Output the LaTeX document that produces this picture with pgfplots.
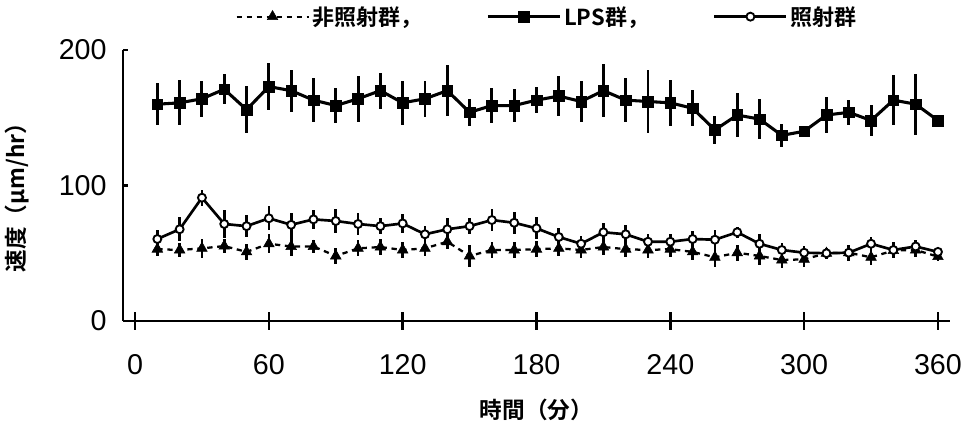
\documentclass[border=0pt]{standalone}
\usepackage{fontspec}
\usepackage{pgfplots}
\pgfplotsset{compat=1.18}
\usepackage{pgfplotstable}
\setmainfont{Noto Sans CJK JP}[BoldFont={Noto Sans CJK JP Bold}]
\newfontfamily\ticksf{Liberation Sans}

\pgfplotstableread{
x y e
10 160 15.6
20 161 16.6
30 164 13.3
40 171 11
50 156 17.2
60 173 17.2
70 170 15.5
80 163 16
90 159 12.8
100 164 17
110 170 13.2
120 161 16.2
130 164 13.3
140 170 19
150 154 9.8
160 159 12.8
170 159 12
180 163 9.5
190 166 14.5
200 162 15
210 170 19.3
220 163 16.4
230 162 22.9
240 161 16.8
250 157 13.2
260 141 10.5
270 152 16
280 149 15
290 137 8.6
300 140 4
310 152 13.3
320 154 9.2
330 148 11.3
340 163 18.7
350 160 22.4
360 148 3
}\lps

\pgfplotstableread{
x y e
10 60.5 7
20 67.7 9
30 91 6
40 71.6 10
50 70 8
60 75.8 9
70 71 9
80 75 7
90 73.8 9
100 71.6 8
110 70 6
120 72 7
130 64 6
140 67.7 8
150 70 6
160 74.5 8
170 72.5 8
180 68.4 8
190 62 7
200 57 6
210 65.5 7
220 64 7
230 58.5 6
240 58.5 6
250 60.5 6
260 60 7
270 65.5 4
280 57 7
290 52.4 5
300 50.4 5
310 50 4
320 50.4 6
330 57 5
340 52.4 6
350 55 5
360 51 3
}\irr

\pgfplotstableread{
x y e
10 53 5
20 52.4 5
30 53.6 7
40 55.3 5
50 51 6
60 57 7
70 55 7
80 55 5
90 48 6
100 53.6 6
110 54.6 6
120 52.4 6
130 53.6 6
140 58.5 5
150 48 8
160 52.4 6
170 52.4 6
180 53 6
190 53.6 6
200 52.4 6
210 54.6 6
220 53 6
230 52.4 6
240 53 6
250 51 6
260 47 7
270 50.4 6
280 48 7
290 45 6
300 45.5 6
310 50 3
320 50.4 5
330 47 6
340 52 4
350 52.4 5
360 47.5 3
}\nonirr

\begin{document}
\begin{tikzpicture}
\begin{axis}[
  scale only axis,
  width=620.25pt, height=203.25pt,
  xmin=-5.4, xmax=365.4,
  ymin=0, ymax=200,
  axis x line*=bottom, axis y line*=left,
  axis line style={line width=2.2pt},
  xtick={0,60,120,180,240,300,360},
  ytick={0,100,200},
  tick align=center,
  major tick length=13.5pt,
  xtick style={line width=2pt, black},
  ytick style={draw=none},
  /pgf/number format/assume math mode=true,
  ticklabel style={font=\ticksf\fontsize{21.5}{24}\selectfont},
  xticklabel style={yshift=-14.5pt},
  yticklabel style={xshift=-2pt},
  xlabel={\bfseries 時間（分）},
  xlabel style={font=\fontsize{17}{20}\selectfont, at={(axis description cs:0.5,-0.328)}, anchor=center},
  ylabel={\bfseries 速度（μm/hr）},
  ylabel style={font=\fontsize{17}{20}\selectfont, at={(axis description cs:-0.128,0.476)}, anchor=center},
  legend columns=3,
  legend style={draw=none, fill=none, at={(axis description cs:0.513,1)}, anchor=center, yshift=25pt,
    font=\bfseries\fontsize{16.5}{18}\selectfont,
    /tikz/every even column/.append style={column sep=46pt}},
  legend image code/.code={
    \draw[mark repeat=2,mark phase=2,#1] plot coordinates {(0cm,0cm) (0.95cm,0cm) (1.9cm,0cm)};},
  error bars/y dir=both, error bars/y explicit,
  error bars/error mark=none,
]
\addplot[black, line width=1.7pt, dash pattern=on 4pt off 3.5pt,
  mark=triangle*, mark size=4.6pt, mark options={solid, fill=black, line width=0.4pt},
  error bars/error bar style={line width=2pt, solid}]
  table[x=x, y=y, y error=e] {\nonirr};
\addlegendentry{非照射群，}
\addplot[black, line width=2.3pt,
  mark=square*, mark size=4pt, mark options={solid, fill=black, line width=0.4pt},
  error bars/error bar style={line width=2.2pt}]
  table[x=x, y=y, y error=e] {\lps};
\addlegendentry{LPS群，}
\addplot[black, line width=2pt,
  mark=*, mark size=3pt, mark options={solid, fill=white, line width=1.4pt},
  error bars/error bar style={line width=2pt}]
  table[x=x, y=y, y error=e] {\irr};
\addlegendentry{照射群}
\pgfplotsinvokeforeach{0,100,200}{
  \draw[line width=2pt] (axis cs:-5.4,#1) -- ++(-5.25pt,0);
}
\end{axis}
\pgfresetboundingbox
\path[use as bounding box] (current axis.south west) ++(-92.25pt,-84.75pt) rectangle ([xshift=12.75pt,yshift=37.5pt]current axis.north east);
\end{tikzpicture}
\end{document}
